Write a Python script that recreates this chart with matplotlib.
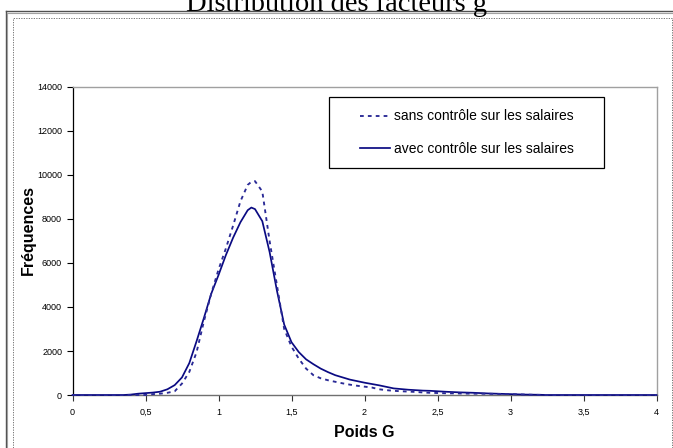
import matplotlib
matplotlib.use("Agg")
import matplotlib.pyplot as plt
from matplotlib.lines import Line2D
from matplotlib.patches import Rectangle
from matplotlib.ticker import FixedLocator

# ---- data ----
poids = [0, 0.35, 0.40, 0.45, 0.50, 0.55, 0.60, 0.65, 0.70, 0.75, 0.80, 0.85,
         0.90, 0.95, 1.00, 1.05, 1.10, 1.15, 1.20, 1.225, 1.25, 1.30, 1.35,
         1.40, 1.45, 1.50, 1.55, 1.60, 1.65, 1.70, 1.75, 1.80, 1.85, 1.90,
         1.95, 2.00, 2.05, 2.10, 2.15, 2.20, 2.25, 2.30, 2.35, 2.40, 2.45,
         2.50, 2.55, 2.60, 2.65, 2.70, 2.75, 2.80, 2.85, 2.90, 2.95, 3.00,
         3.05, 3.10, 3.15, 3.20, 3.25, 4.00]

avec_controle = [0, 0, 20, 60, 85, 110, 150, 260, 450, 800, 1450, 2450,
                 3500, 4600, 5450, 6350, 7150, 7850, 8400, 8520, 8450, 7900, 6500,
                 4750, 3200, 2400, 1950, 1620, 1400, 1200, 1040, 900, 800, 700,
                 630, 560, 500, 440, 370, 300, 270, 240, 220, 200, 190,
                 170, 150, 135, 120, 110, 100, 85, 70, 60, 50, 40,
                 30, 20, 15, 10, 0, 0]

sans_controle = [0, 0, 0, 0, 0, 40, 60, 100, 170, 520, 1050, 1950,
                 3350, 4600, 5700, 6650, 7700, 8800, 9550, 9690, 9720, 9250, 7000,
                 5000, 3000, 2200, 1650, 1200, 900, 760, 670, 600, 530, 470,
                 420, 380, 340, 260, 220, 190, 170, 155, 140, 115, 100,
                 90, 80, 75, 70, 65, 60, 58, 55, 50, 45, 40,
                 30, 20, 10, 5, 0, 0]

x_ticks = [0, 0.5, 1, 1.5, 2, 2.5, 3, 3.5, 4]
x_tick_labels = ["0", "0,5", "1", "1,5", "2", "2,5", "3", "3,5", "4"]
y_ticks = [0, 2000, 4000, 6000, 8000, 10000, 12000, 14000]
y_tick_labels = ["0", "2000", "4000", "6000", "8000", "10000", "12000", "14000"]

label_sans = "sans contrôle sur les salaires"
label_avec = "avec contrôle sur les salaires"
title = "Distribution des facteurs g"
xlabel = "Poids G"
ylabel = "Fréquences"

# ---- figure ----
W, H = 673, 448
plt.rcParams['font.family'] = ['Liberation Sans', 'DejaVu Sans']
fig = plt.figure(figsize=(W / 100, H / 100), dpi=100)
fig.patch.set_facecolor('white')

def fx(px):
    return px / W

def fy(py):
    return 1 - py / H

# outer frame lines
fig.add_artist(Line2D([fx(5.5), fx(5.5)], [fy(11.5), fy(449)], color='#505050', lw=1.0))
fig.add_artist(Line2D([fx(7.2), fx(7.2)], [fy(13), fy(449)], color='#a0a0a0', lw=0.8))
fig.add_artist(Line2D([fx(5.5), fx(674)], [fy(11.5), fy(11.5)], color='#505050', lw=1.0))
fig.add_artist(Line2D([fx(7.2), fx(674)], [fy(13), fy(13)], color='#a0a0a0', lw=0.8))
# inner dashed frame
fig.add_artist(Rectangle((fx(12.5), fy(449)), fx(671.5) - fx(12.5), fy(17.5) - fy(449),
                         transform=fig.transFigure, fill=False, edgecolor='#606060',
                         lw=0.6, linestyle=(0, (1.5, 1.5))))

# title (cut at top, as in the original)
fig.text(fx(337), fy(11), title, ha='center', va='baseline',
         fontsize=20.5, family=['Liberation Serif', 'DejaVu Serif'])

ax = fig.add_axes([fx(72.5), fy(395), fx(656.5) - fx(72.5), fy(87) - fy(395)])
ax.set_facecolor('white')

navy = '#0a0a82'
ax.plot(poids, avec_controle, color=navy, lw=1.25, solid_joinstyle='round',
        label=label_avec, zorder=3, clip_on=False)
ax.plot(poids, sans_controle, color='#2a2a96', lw=1.35, linestyle=(0, (2, 2.2)),
        label=label_sans, zorder=3, clip_on=False)

ax.set_xlim(0, 4)
ax.set_ylim(0, 14000)
ax.xaxis.set_major_locator(FixedLocator(x_ticks))
ax.set_xticklabels(x_tick_labels)
ax.yaxis.set_major_locator(FixedLocator(y_ticks))
ax.set_yticklabels(y_tick_labels)
ax.tick_params(axis='both', direction='out', length=4.5, width=0.8,
               labelsize=6.5, colors='black')
ax.tick_params(axis='x', pad=5, colors='#333333', labelcolor='black')
ax.tick_params(axis='y', pad=3)

for side in ['top', 'right']:
    ax.spines[side].set_color('#a0a0a0')
    ax.spines[side].set_linewidth(1.0)
ax.spines['left'].set_color('black')
ax.spines['left'].set_linewidth(0.9)
ax.spines['bottom'].set_color('#707070')
ax.spines['bottom'].set_linewidth(1.0)

fig.text(fx(364), fy(432), xlabel, ha='center', va='center',
         fontsize=11.5, fontweight='bold')
fig.text(fx(28), fy(230), ylabel, ha='center', va='center', rotation=90,
         fontsize=11.5, fontweight='bold')

# legend box (drawn inside the axes so the legend sits on top of it)
ax.add_artist(Rectangle((fx(328.5), fy(167.5)), fx(604) - fx(328.5), fy(97.5) - fy(167.5),
                        transform=fig.transFigure, facecolor='white',
                        edgecolor='black', lw=0.9, zorder=4, clip_on=False))
handles, labels = ax.get_legend_handles_labels()
order = [1, 0]
leg = ax.legend([handles[i] for i in order], [labels[i] for i in order],
                loc='upper left', bbox_to_anchor=(fx(360), fy(109.5)),
                bbox_transform=fig.transFigure, frameon=False,
                fontsize=10, handlelength=2.15, handletextpad=0.28,
                labelspacing=1.33, borderpad=0, borderaxespad=0)
leg.set_zorder(5)

fig.savefig('out.png', dpi=100, facecolor='white')
